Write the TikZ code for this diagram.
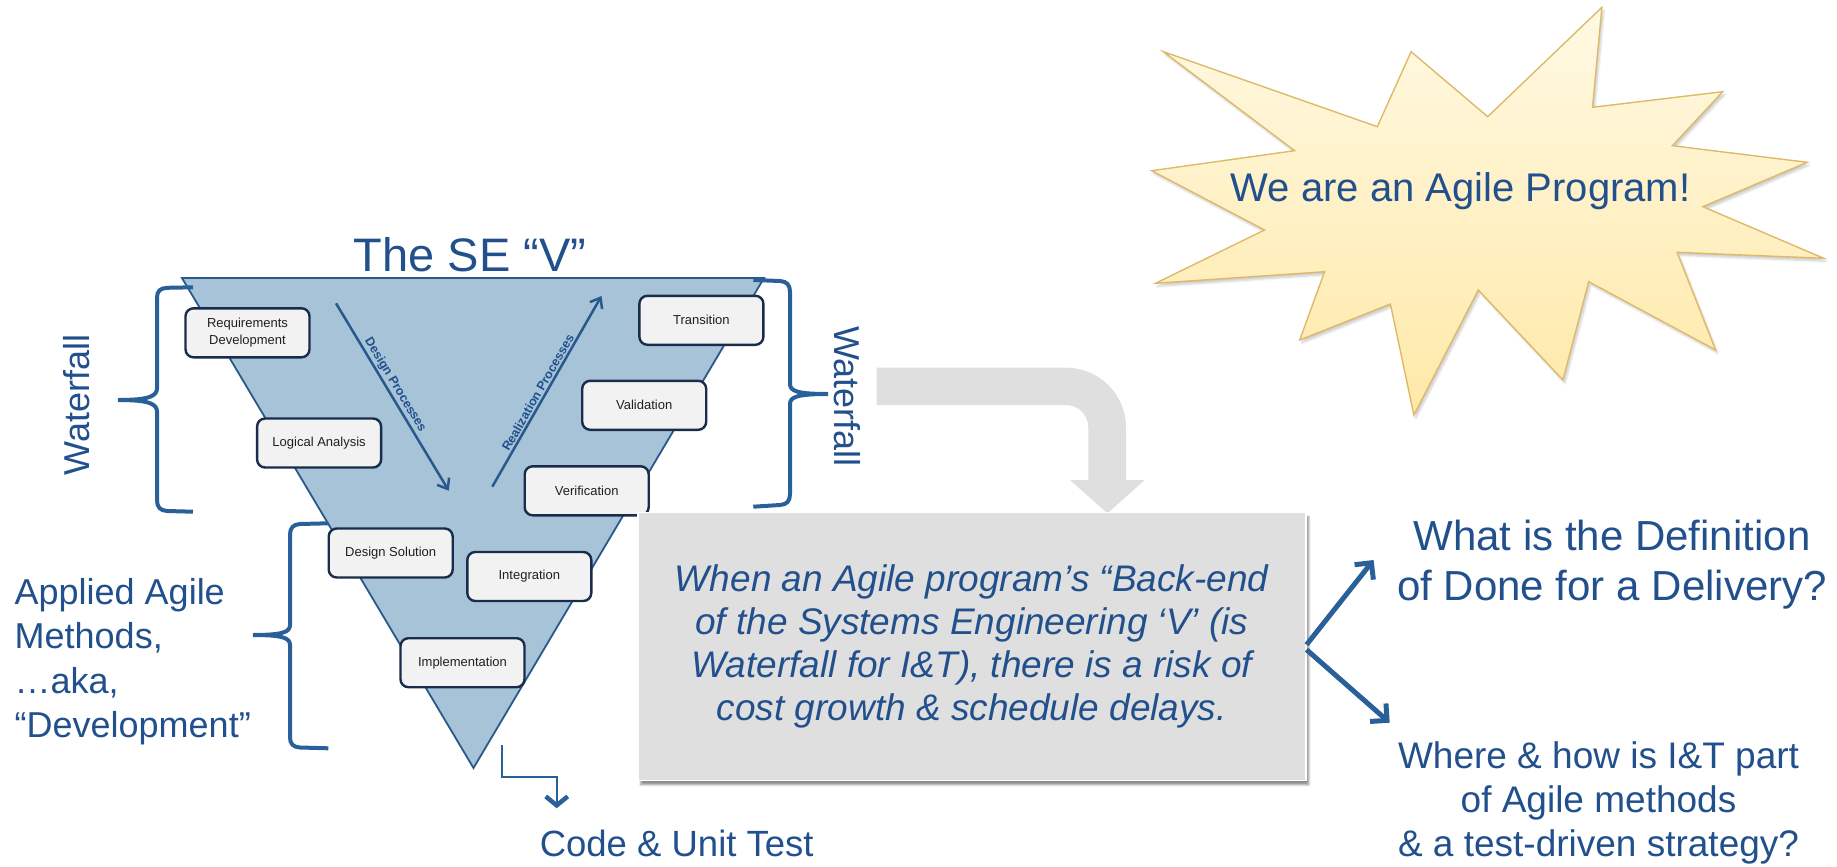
\documentclass[tikz,border=0pt]{standalone}
\usepackage{fontspec}
\setmainfont{Liberation Sans}
\usetikzlibrary{arrows.meta,shadows.blur}

\definecolor{txtblue}{RGB}{33,80,140}
\definecolor{brcol}{RGB}{42,96,153}
\definecolor{vfill}{RGB}{166,195,216}
\definecolor{vline}{RGB}{40,88,140}
\definecolor{boxline}{RGB}{25,45,75}
\definecolor{boxfill}{RGB}{242,242,242}
\definecolor{arrgray}{RGB}{223,223,223}
\definecolor{starTop}{RGB}{255,249,228}
\definecolor{starBot}{RGB}{255,233,168}
\definecolor{starline}{RGB}{222,186,104}

\newcommand\fsz[2]{\fontsize{#1}{#2}\selectfont}

\begin{document}
\begin{tikzpicture}[x=1pt,y=-1pt,
  stage/.style={draw=boxline, line width=2.4pt, fill=boxfill, rounded corners=8pt,
    minimum width=124pt, minimum height=49pt, inner sep=0pt,
    font=\fsz{13}{16.5}, align=center, text=black!88},
  brace/.style={draw=brcol, line width=4pt},
  procarrow/.style={draw=vline, line width=2.5pt, -{Straight Barb[length=9pt,width=14pt]}},
  proclabel/.style={font=\fsz{12.5}{14}\bfseries, text=txtblue, inner sep=1.5pt},
  bigarrow/.style={draw=brcol, line width=5pt, -{Straight Barb[length=12pt,width=24pt]}},
  codearrow/.style={draw=brcol, line width=2pt, -{Straight Barb[length=9pt,width=22pt,line width=4.5pt]}},
  label/.style={text=txtblue, inner sep=0pt}
]
\useasboundingbox (0,0) rectangle (1837,867);

% the V
\path[fill=vfill, draw=vline, line width=1.8pt, line join=miter]
  (182,278) -- (764,278) -- (473.5,768) -- cycle;

% design / realization flow arrows
\coordinate (ds0) at (336,303.3);
\coordinate (ds1) at (448.8,490.7);
\coordinate (rz0) at (492.3,486.7);
\coordinate (rz1) at (601.5,296);
\draw[procarrow] (ds0) -- node[proclabel, sloped, above, pos=0.46] {Design Processes} (ds1);
\draw[procarrow] (rz0) -- node[proclabel, sloped, above, pos=0.475] {Realization Processes} (rz1);

% process stages
\node[stage] (req)  at (247.5,332.8) {Requirements\\Development};
\node[stage] (log)  at (319.1,443)   {Logical Analysis};
\node[stage] (dsol) at (390.7,553)   {Design Solution};
\node[stage] (impl) at (462.5,662.7) {Implementation};
\node[stage] (intg) at (529.3,576.5) {Integration};
\node[stage] (veri) at (586.7,490.8) {Verification};
\node[stage] (vali) at (644.2,405.3) {Validation};
\node[stage] (tran) at (701.4,320.3) {Transition};

% braces
\draw[brace] (193,287.3) -- (167,287.8) .. controls (160,288.3) and (157,291) .. (157,298)
  -- (157,388) .. controls (157,396) and (150,400) .. (118,400)
  .. controls (150,400) and (157,404) .. (157,412)
  -- (157,500) .. controls (157,507) and (160,510.5) .. (167,511) -- (193,511.7);
\draw[brace] (753.3,280) -- (780,281) .. controls (787,281.5) and (790,285) .. (790,292)
  -- (790,384) .. controls (790,391) and (797,394) .. (828,394)
  .. controls (797,394) and (790,397) .. (790,404)
  -- (790,494) .. controls (790,501) and (787,504.5) .. (780,505) -- (753.3,506.7);
\draw[brace] (328.3,523.3) -- (300,524) .. controls (293,524.5) and (290,528) .. (290,535)
  -- (290,625) .. controls (290,632) and (283,635) .. (253,635)
  .. controls (283,635) and (290,638) .. (290,645)
  -- (290,737) .. controls (290,744) and (293,747) .. (300,747.5) -- (328.3,748.3);

% code & unit test branch
\coordinate (cu0) at (501.7,745);
\coordinate (cubend) at (556.7,777.3);
\node[label, anchor=base, font=\fsz{36.5}{40}] (code) at (676.7,856.7) {Code \& Unit Test};
\coordinate (cu1) at (556.7,808.3);
\draw[codearrow] (cu0) |- (cubend) -- (cu1);

% big grey bent arrow
\fill[arrgray] (876.7,367.7) -- (1066,367.7) .. controls (1099.1,367.7) and (1126,394.6) .. (1126,427.7)
  -- (1126,480) -- (1144.7,480) -- (1107.4,513.3) -- (1069.9,480) -- (1088.3,480)
  -- (1088.3,427.3) .. controls (1088.3,415) and (1078.3,405) .. (1066,405)
  -- (876.7,405) -- cycle;

% risk statement
\node[fill=arrgray, draw=white, line width=1.5pt, minimum width=668pt, minimum height=268pt,
  inner sep=0pt, align=center, text=txtblue, font=\fsz{37}{43}\itshape,
  blur shadow={shadow xshift=3pt, shadow yshift=-4pt, shadow opacity=45, shadow blur steps=6}]
  (risk) at (971.8,646.7)
  {When an Agile program’s “Back-end\\
   of the Systems Engineering ‘V’ (is\\
   Waterfall for I\&T), there is a risk of\\
   cost growth \& schedule delays.};

% questions
\node[label, align=center, font=\fsz{42}{50}] (done) at (1612,565)
  {What is the Definition\\of Done for a Delivery?};
\node[label, align=center, font=\fsz{37}{44}] (where) at (1598.5,803)
  {Where \& how is I\&T part\\of Agile methods\\\& a test-driven strategy?};
\coordinate (q1) at (1373.6,560);
\coordinate (q2) at (1389.7,722.7);
\draw[bigarrow] ([yshift=2pt]risk.east) -- (q1);
\draw[bigarrow] ([yshift=-3pt]risk.east) -- (q2);

% starburst
\path[draw=starline, line width=1.4pt, line join=miter, top color=starTop, bottom color=starBot,
  blur shadow={shadow xshift=2pt, shadow yshift=-3pt, shadow opacity=20, shadow blur steps=5}]
  (1163.4,51.7) -- (1377.3,126.7) -- (1411.1,51.7) -- (1487.7,116.7) -- (1601.9,7.3)
  -- (1592.5,107.3) -- (1722.7,91.7) -- (1672.4,145.7) -- (1807.2,162.3) -- (1702.9,206.7)
  -- (1823.7,258.3) -- (1677.1,252.3) -- (1715.6,350) -- (1588.7,281.7) -- (1562.9,380)
  -- (1478.3,290) -- (1413.9,415) -- (1390.4,304) -- (1299.7,340) -- (1324.6,271.7)
  -- (1155.5,283.3) -- (1264.5,230) -- (1151.7,170.7) -- (1294.6,150.7) -- cycle;
\node[label, anchor=base, font=\fsz{40}{44}] (agile) at (1460.6,201.7) {We are an Agile Program!};

% titles and side labels
\node[label, anchor=base, font=\fsz{47}{52}] (title) at (470,271.7) {The SE “V”};
\node[label, rotate=90, font=\fsz{36}{40}] (wfl) at (77,405) {Waterfall};
\node[label, rotate=-90, font=\fsz{36}{40}] (wfr) at (847,396.5) {Waterfall};
\node[label, anchor=north west, align=left, font=\fsz{36}{44.4}] (aam) at (14.5,578.2)
  {Applied Agile\\Methods,\\…aka,\\“Development”};
\end{tikzpicture}
\end{document}
